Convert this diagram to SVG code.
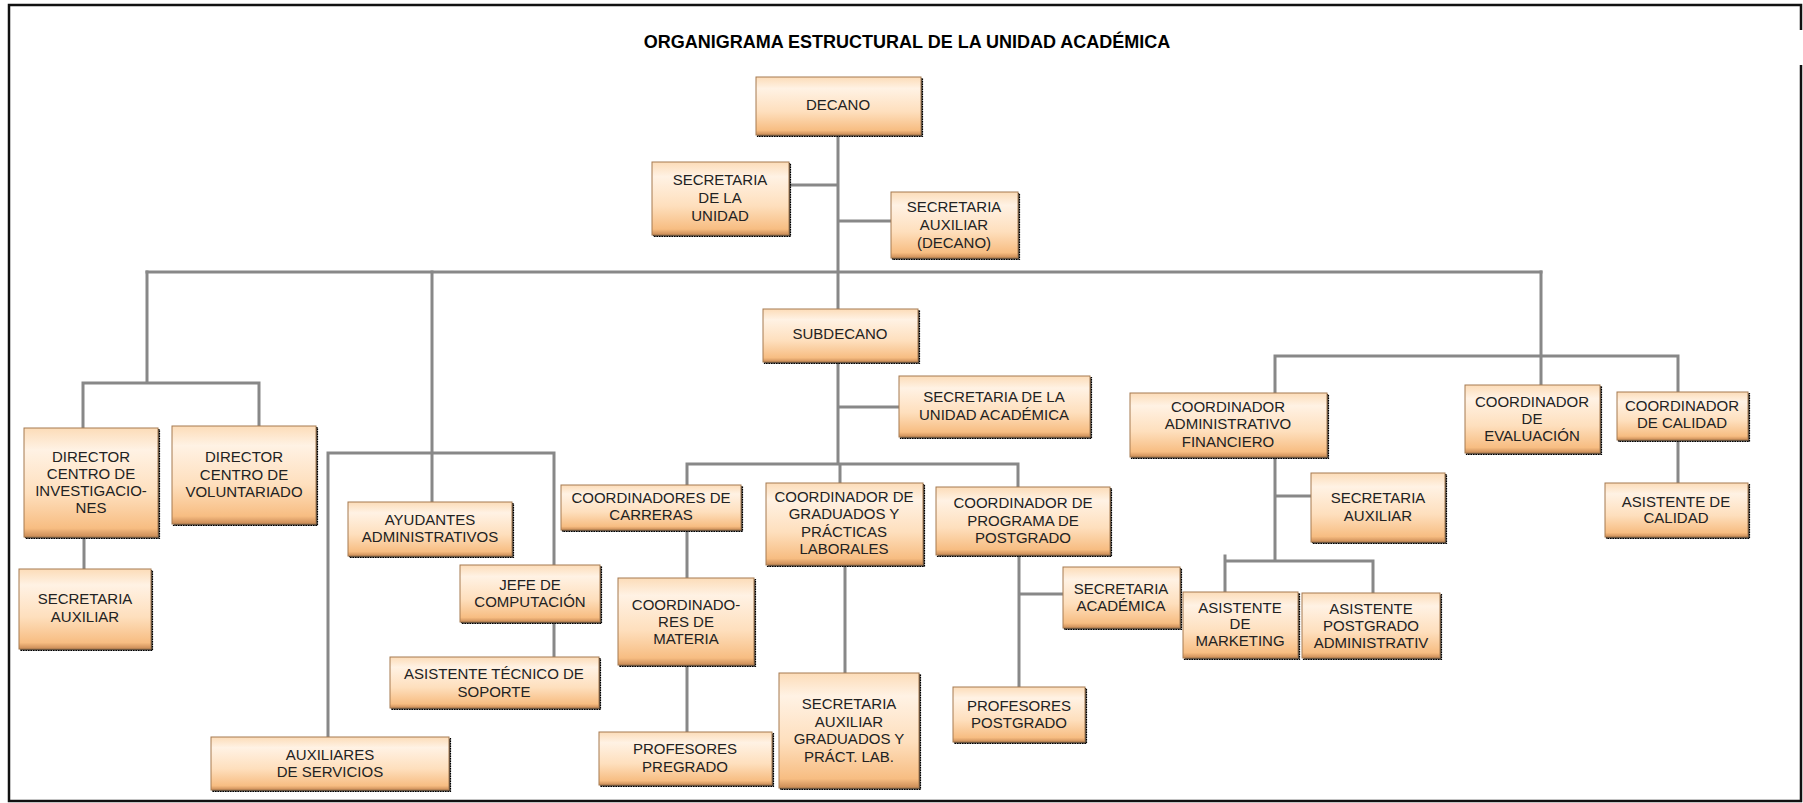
<svg xmlns="http://www.w3.org/2000/svg" width="1803" height="803" viewBox="0 0 1803 803">
<defs>
<linearGradient id="gb" x1="0" y1="0" x2="0" y2="1">
<stop offset="0" stop-color="#fcdcb8"/>
<stop offset="0.2" stop-color="#fff2e4"/>
<stop offset="0.6" stop-color="#fedfbd"/>
<stop offset="0.92" stop-color="#f7bd82"/>
<stop offset="1" stop-color="#c98a55"/>
</linearGradient>
<style>
.sh{fill:#2a2a2a;stroke:#000;stroke-width:1.2;stroke-dasharray:1.5 1}
.bx{fill:url(#gb);stroke:#a57a50;stroke-width:1}
.tx{font-family:"Liberation Sans",Arial,sans-serif;font-size:15px;fill:#222;text-anchor:middle}
.ttl{font-family:"Liberation Sans",Arial,sans-serif;font-size:18px;font-weight:bold;fill:#000;text-anchor:middle}
.cn{fill:none;stroke:#888;stroke-width:3;stroke-linecap:square}
.fr{fill:none;stroke:#111;stroke-width:2.5}
</style>
</defs>
<rect x="0" y="0" width="1803" height="803" fill="#fff"/>
<g id="frame">
<path class="fr" d="M1801,30 V5 H9 V801 H1801 V65"/>
</g>
<text class="ttl" x="907" y="48">ORGANIGRAMA ESTRUCTURAL DE LA UNIDAD ACADÉMICA</text>
<g id="connectors">
<path class="cn" d="M838,135 V309 M789,185 H838 M838,221 H891 M147,272 H1541"/>
<path class="cn" d="M147,272 V383 M83,383 H259 M83,383 V428 M259,383 V426 M84,537 V569"/>
<path class="cn" d="M432,272 V502 M328,453 H554 M328,453 V737 M554,453 V565 M554,622 V657"/>
<path class="cn" d="M838,362 V464 M838,407 H899 M687,464 H1018 M687,464 V485 M840,464 V483 M1018,464 V487"/>
<path class="cn" d="M687,530 V578 M687,665 V732 M845,565 V673 M1019,555 V687 M1019,594 H1063"/>
<path class="cn" d="M1541,272 V385 M1275,356 H1678 M1275,356 V393 M1678,356 V392 M1678,440 V483"/>
<path class="cn" d="M1275,457 V561 M1275,496 H1311 M1225,561 H1373 M1225,556 V592 M1373,561 V593"/>
</g>
<g id="decano"><rect class="sh" x="757.5" y="78.5" width="165" height="58"/><rect class="bx" x="756" y="77" width="165" height="58"/>
<text class="tx"><tspan x="838" y="110">DECANO</tspan></text></g>
<g id="secretaria-unidad"><rect class="sh" x="653.5" y="163.5" width="137" height="73"/><rect class="bx" x="652" y="162" width="137" height="73"/>
<text class="tx"><tspan x="720" y="185">SECRETARIA</tspan><tspan x="720" y="203">DE LA</tspan><tspan x="720" y="221">UNIDAD</tspan></text></g>
<g id="secretaria-auxiliar-decano"><rect class="sh" x="892.5" y="193.5" width="127" height="66"/><rect class="bx" x="891" y="192" width="127" height="66"/>
<text class="tx"><tspan x="954" y="212">SECRETARIA</tspan><tspan x="954" y="230">AUXILIAR</tspan><tspan x="954" y="248">(DECANO)</tspan></text></g>
<g id="director-investigaciones"><rect class="sh" x="25.5" y="429.5" width="134" height="109"/><rect class="bx" x="24" y="428" width="134" height="109"/>
<text class="tx"><tspan x="91" y="462">DIRECTOR</tspan><tspan x="91" y="479">CENTRO DE</tspan><tspan x="91" y="496">INVESTIGACIO-</tspan><tspan x="91" y="513">NES</tspan></text></g>
<g id="director-voluntariado"><rect class="sh" x="173.5" y="427.5" width="144" height="98"/><rect class="bx" x="172" y="426" width="144" height="98"/>
<text class="tx"><tspan x="244" y="462">DIRECTOR</tspan><tspan x="244" y="480">CENTRO DE</tspan><tspan x="244" y="497">VOLUNTARIADO</tspan></text></g>
<g id="secretaria-auxiliar-inv"><rect class="sh" x="20.5" y="570.5" width="132" height="80"/><rect class="bx" x="19" y="569" width="132" height="80"/>
<text class="tx"><tspan x="85" y="604">SECRETARIA</tspan><tspan x="85" y="622">AUXILIAR</tspan></text></g>
<g id="ayudantes"><rect class="sh" x="349.5" y="503.5" width="164" height="54"/><rect class="bx" x="348" y="502" width="164" height="54"/>
<text class="tx"><tspan x="430" y="525">AYUDANTES</tspan><tspan x="430" y="542">ADMINISTRATIVOS</tspan></text></g>
<g id="jefe-computacion"><rect class="sh" x="461.5" y="566.5" width="140" height="57"/><rect class="bx" x="460" y="565" width="140" height="57"/>
<text class="tx"><tspan x="530" y="590">JEFE DE</tspan><tspan x="530" y="607">COMPUTACIÓN</tspan></text></g>
<g id="asistente-tecnico"><rect class="sh" x="391.5" y="658.5" width="209" height="51"/><rect class="bx" x="390" y="657" width="209" height="51"/>
<text class="tx"><tspan x="494" y="679">ASISTENTE TÉCNICO DE</tspan><tspan x="494" y="697">SOPORTE</tspan></text></g>
<g id="auxiliares-servicios"><rect class="sh" x="212.5" y="738.5" width="238" height="53"/><rect class="bx" x="211" y="737" width="238" height="53"/>
<text class="tx"><tspan x="330" y="760">AUXILIARES</tspan><tspan x="330" y="777">DE SERVICIOS</tspan></text></g>
<g id="subdecano"><rect class="sh" x="764.5" y="310.5" width="155" height="53"/><rect class="bx" x="763" y="309" width="155" height="53"/>
<text class="tx"><tspan x="840" y="339">SUBDECANO</tspan></text></g>
<g id="secretaria-unidad-academica"><rect class="sh" x="900.5" y="377.5" width="191" height="61"/><rect class="bx" x="899" y="376" width="191" height="61"/>
<text class="tx"><tspan x="994" y="402">SECRETARIA DE LA</tspan><tspan x="994" y="420">UNIDAD ACADÉMICA</tspan></text></g>
<g id="coordinadores-carreras"><rect class="sh" x="562.5" y="486.5" width="180" height="45"/><rect class="bx" x="561" y="485" width="180" height="45"/>
<text class="tx"><tspan x="651" y="503">COORDINADORES DE</tspan><tspan x="651" y="520">CARRERAS</tspan></text></g>
<g id="coordinador-graduados"><rect class="sh" x="767.5" y="484.5" width="157" height="82"/><rect class="bx" x="766" y="483" width="157" height="82"/>
<text class="tx"><tspan x="844" y="502">COORDINADOR DE</tspan><tspan x="844" y="519">GRADUADOS Y</tspan><tspan x="844" y="537">PRÁCTICAS</tspan><tspan x="844" y="554">LABORALES</tspan></text></g>
<g id="coordinador-postgrado"><rect class="sh" x="937.5" y="488.5" width="174" height="68"/><rect class="bx" x="936" y="487" width="174" height="68"/>
<text class="tx"><tspan x="1023" y="508">COORDINADOR DE</tspan><tspan x="1023" y="526">PROGRAMA DE</tspan><tspan x="1023" y="543">POSTGRADO</tspan></text></g>
<g id="coordinadores-materia"><rect class="sh" x="619.5" y="579.5" width="136" height="87"/><rect class="bx" x="618" y="578" width="136" height="87"/>
<text class="tx"><tspan x="686" y="610">COORDINADO-</tspan><tspan x="686" y="627">RES DE</tspan><tspan x="686" y="644">MATERIA</tspan></text></g>
<g id="profesores-pregrado"><rect class="sh" x="600.5" y="733.5" width="173" height="53"/><rect class="bx" x="599" y="732" width="173" height="53"/>
<text class="tx"><tspan x="685" y="754">PROFESORES</tspan><tspan x="685" y="772">PREGRADO</tspan></text></g>
<g id="secretaria-auxiliar-graduados"><rect class="sh" x="780.5" y="674.5" width="140" height="115"/><rect class="bx" x="779" y="673" width="140" height="115"/>
<text class="tx"><tspan x="849" y="709">SECRETARIA</tspan><tspan x="849" y="727">AUXILIAR</tspan><tspan x="849" y="744">GRADUADOS Y</tspan><tspan x="849" y="762">PRÁCT. LAB.</tspan></text></g>
<g id="secretaria-academica"><rect class="sh" x="1064.5" y="568.5" width="117" height="61"/><rect class="bx" x="1063" y="567" width="117" height="61"/>
<text class="tx"><tspan x="1121" y="594">SECRETARIA</tspan><tspan x="1121" y="611">ACADÉMICA</tspan></text></g>
<g id="profesores-postgrado"><rect class="sh" x="954.5" y="688.5" width="132" height="55"/><rect class="bx" x="953" y="687" width="132" height="55"/>
<text class="tx"><tspan x="1019" y="711">PROFESORES</tspan><tspan x="1019" y="728">POSTGRADO</tspan></text></g>
<g id="coordinador-administrativo"><rect class="sh" x="1131.5" y="394.5" width="197" height="64"/><rect class="bx" x="1130" y="393" width="197" height="64"/>
<text class="tx"><tspan x="1228" y="412">COORDINADOR</tspan><tspan x="1228" y="429">ADMINISTRATIVO</tspan><tspan x="1228" y="447">FINANCIERO</tspan></text></g>
<g id="coordinador-evaluacion"><rect class="sh" x="1466.5" y="386.5" width="135" height="68"/><rect class="bx" x="1465" y="385" width="135" height="68"/>
<text class="tx"><tspan x="1532" y="407">COORDINADOR</tspan><tspan x="1532" y="424">DE</tspan><tspan x="1532" y="441">EVALUACIÓN</tspan></text></g>
<g id="coordinador-calidad"><rect class="sh" x="1618.5" y="393.5" width="131" height="48"/><rect class="bx" x="1617" y="392" width="131" height="48"/>
<text class="tx"><tspan x="1682" y="411">COORDINADOR</tspan><tspan x="1682" y="428">DE CALIDAD</tspan></text></g>
<g id="asistente-calidad"><rect class="sh" x="1606.5" y="484.5" width="143" height="54"/><rect class="bx" x="1605" y="483" width="143" height="54"/>
<text class="tx"><tspan x="1676" y="507">ASISTENTE DE</tspan><tspan x="1676" y="523">CALIDAD</tspan></text></g>
<g id="secretaria-auxiliar-adm"><rect class="sh" x="1312.5" y="474.5" width="134" height="69"/><rect class="bx" x="1311" y="473" width="134" height="69"/>
<text class="tx"><tspan x="1378" y="503">SECRETARIA</tspan><tspan x="1378" y="521">AUXILIAR</tspan></text></g>
<g id="asistente-marketing"><rect class="sh" x="1184.5" y="593.5" width="115" height="66"/><rect class="bx" x="1183" y="592" width="115" height="66"/>
<text class="tx"><tspan x="1240" y="613">ASISTENTE</tspan><tspan x="1240" y="629">DE</tspan><tspan x="1240" y="646">MARKETING</tspan></text></g>
<g id="asistente-postgrado-adm"><rect class="sh" x="1303.5" y="594.5" width="138" height="65"/><rect class="bx" x="1302" y="593" width="138" height="65"/>
<text class="tx"><tspan x="1371" y="614">ASISTENTE</tspan><tspan x="1371" y="631">POSTGRADO</tspan><tspan x="1371" y="648">ADMINISTRATIV</tspan></text></g>
</svg>
